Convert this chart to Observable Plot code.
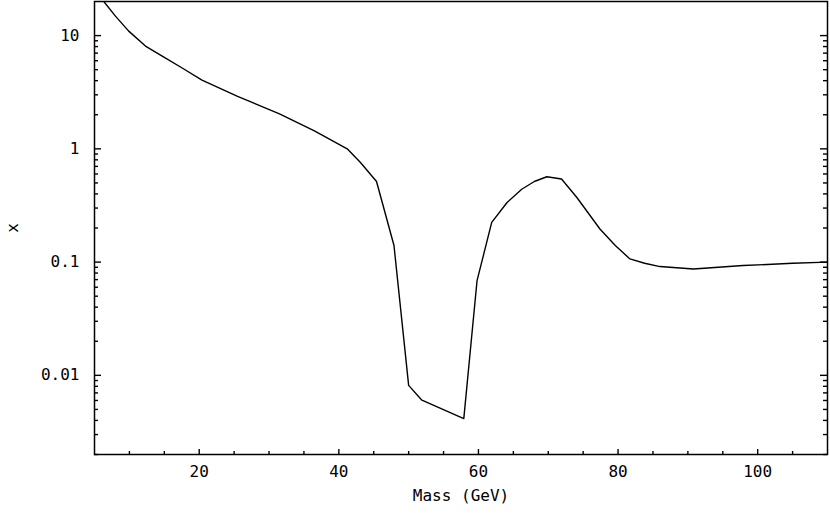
<!DOCTYPE html>
<html>
<head>
<meta charset="utf-8">
<script src="https://cdn.jsdelivr.net/npm/d3@7"></script>
<script src="https://cdn.jsdelivr.net/npm/@observablehq/plot@0.6"></script>
<style>
  html, body { margin: 0; padding: 0; background: white; }
</style>
</head>
<body>
<div id="chart"></div>
<script>
const mass = [5, 6.3, 8.0, 9.9, 12.3, 14.7, 17.5, 20.4, 25.5, 31.5, 36.5, 41.2, 43.1, 45.4, 47.9, 50.0, 51.9, 57.9, 59.8, 61.9, 64.1, 66.2, 68.0, 69.8, 71.9, 74.1, 77.4, 79.6, 81.7, 83.8, 86.0, 90.8, 97.9, 105.0, 110];
const chi  = [25, 20.1, 14.85, 10.95, 8.08, 6.6, 5.2, 4.05, 2.9, 2.04, 1.44, 1.0, 0.757, 0.515, 0.14, 0.00816, 0.00603, 0.00415, 0.0687, 0.224, 0.336, 0.44, 0.515, 0.567, 0.541, 0.372, 0.196, 0.14, 0.1067, 0.0976, 0.0913, 0.087, 0.0932, 0.0976, 0.1];

const xMajor = [20, 40, 60, 80, 100];
const xMinor = [10, 15, 25, 30, 35, 45, 50, 55, 65, 70, 75, 85, 90, 95, 105];
const yMajor = [0.01, 0.1, 1, 10];
const yMajorLabels = ["0.01", "0.1", "1", "10"];
const yMinor = [0.002, 0.003, 0.004, 0.005, 0.006, 0.007, 0.008, 0.009,
                0.02, 0.03, 0.04, 0.05, 0.06, 0.07, 0.08, 0.09,
                0.2, 0.3, 0.4, 0.5, 0.6, 0.7, 0.8, 0.9,
                2, 3, 4, 5, 6, 7, 8, 9];

const data = mass.map((m, i) => ({mass: m, chi: chi[i]}));

const W = 830, H = 513, ML = 94, MR = 3, MT = 1, MB = 59;
const fw = W - ML - MR, fh = H - MT - MB;
const tk = {stroke: "black", strokeWidth: 1.4};

const chart = Plot.plot({
  width: W,
  height: H,
  marginLeft: ML,
  marginRight: MR,
  marginTop: MT,
  marginBottom: MB,
  style: {fontFamily: "DejaVu Sans Mono", fontSize: "16px", background: "white", color: "black"},
  x: {domain: [5, 110]},
  y: {type: "log", domain: [0.002, 20]},
  marks: [
    Plot.frame({stroke: "black", fill: "none", strokeWidth: 1.5}),
    // inward tick marks (bottom, left, right)
    Plot.tickX(xMajor, {x: d => d, insetTop: fh - 5, ...tk}),
    Plot.tickX(xMinor, {x: d => d, insetTop: fh - 3, ...tk}),
    Plot.tickY(yMajor, {y: d => d, insetRight: fw - 7, ...tk}),
    Plot.tickY(yMinor, {y: d => d, insetRight: fw - 4, ...tk}),
    Plot.tickY(yMajor, {y: d => d, insetLeft: fw - 7, ...tk}),
    Plot.tickY(yMinor, {y: d => d, insetLeft: fw - 4, ...tk}),
    // labels
    Plot.axisX({anchor: "bottom", ticks: xMajor, tickSize: 0, tickPadding: 11, tickFormat: d => String(d),
      label: "Mass (GeV)", labelAnchor: "center", labelOffset: 46, labelArrow: "none"}),
    Plot.axisY({anchor: "left", ticks: yMajor, tickSize: 0, tickPadding: 15,
      tickFormat: d => yMajorLabels[yMajor.indexOf(d)],
      label: "x", labelAnchor: "center", labelOffset: 88, labelArrow: "none"}),
    Plot.line(data, {x: "mass", y: "chi", stroke: "black", strokeWidth: 1.4, clip: true})
  ]
});
document.getElementById("chart").appendChild(chart);
</script>
</body>
</html>
